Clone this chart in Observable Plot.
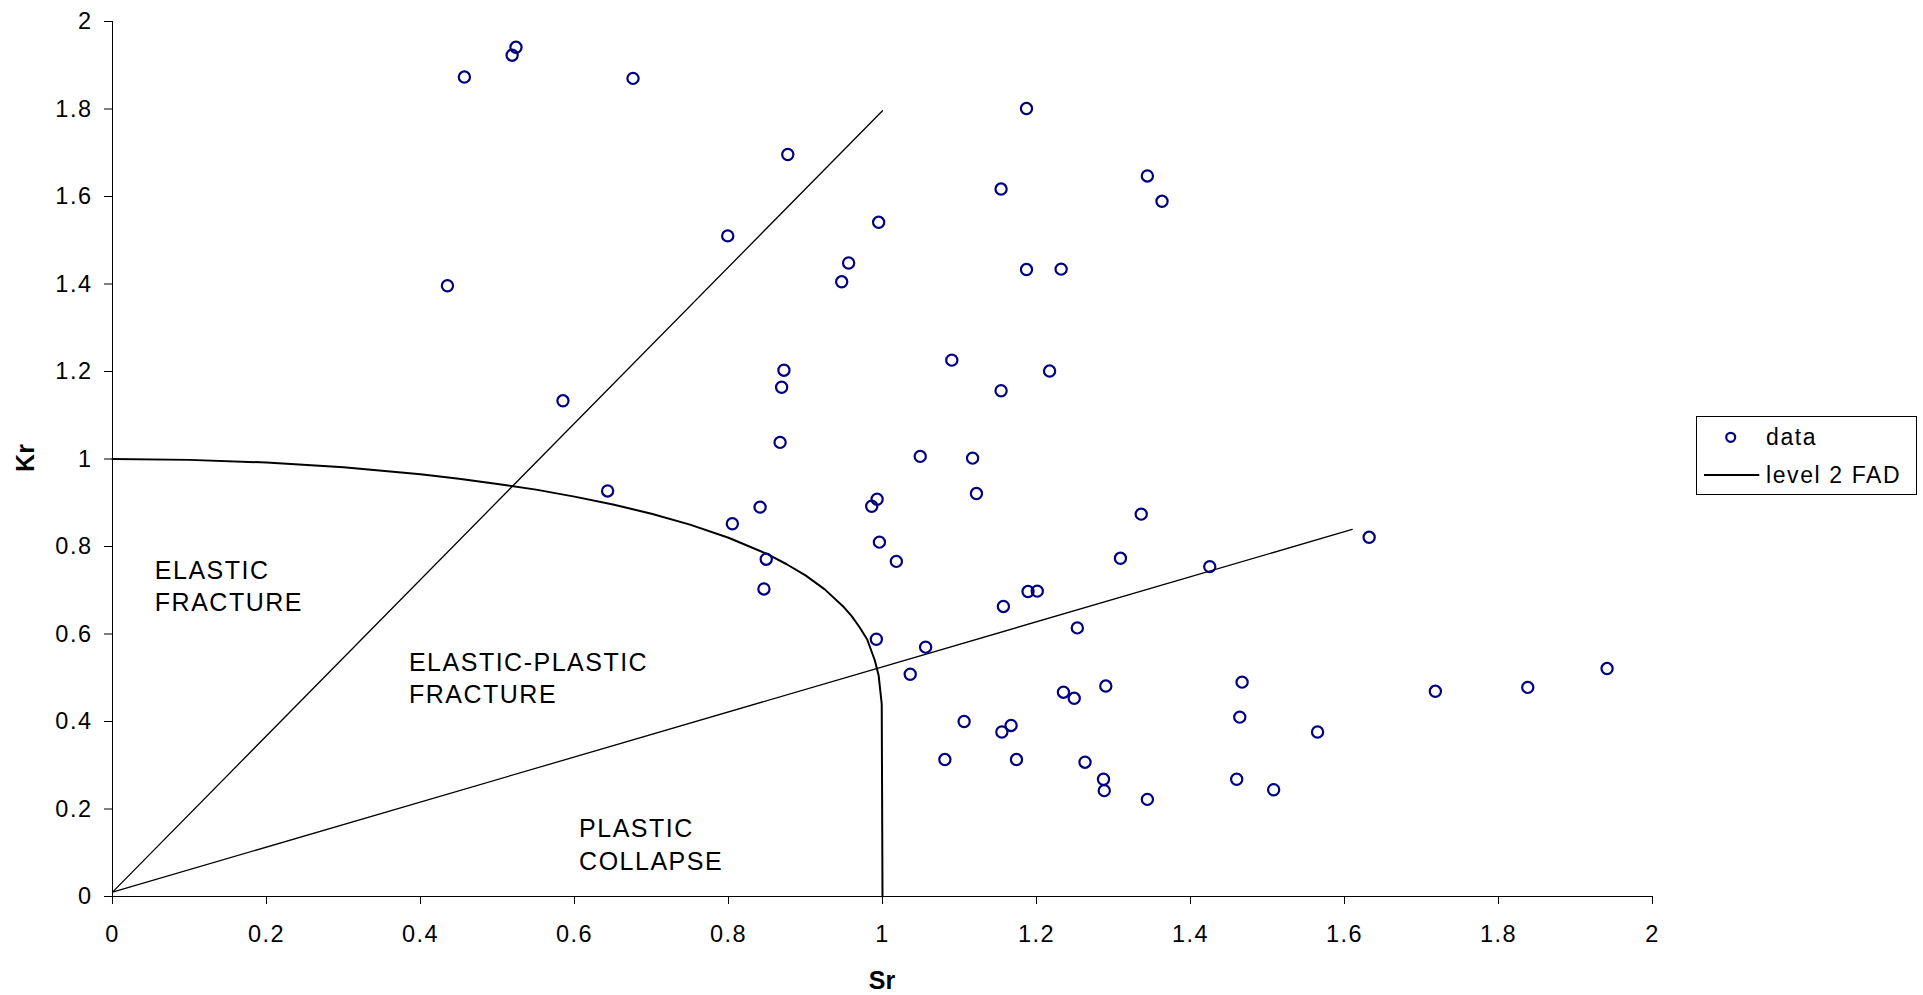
<!DOCTYPE html>
<html>
<head>
<meta charset="utf-8">
<script src="https://cdn.jsdelivr.net/npm/d3@7"></script>
<script src="https://cdn.jsdelivr.net/npm/@observablehq/plot@0.6"></script>
<style>
html, body { margin: 0; padding: 0; background: #fff; }
#wrap { position: relative; width: 1923px; height: 995px; overflow: hidden; font-family: "Liberation Sans", Arial, sans-serif; }
#wrap svg.chart text { letter-spacing: 1.5px; }
.axtitle { position: absolute; font-weight: bold; font-size: 25px; color: #000; line-height: 25px; white-space: nowrap; }
#legend { position: absolute; left: 1696px; top: 416px; width: 221px; height: 79px; }
#legend text { font-family: "Liberation Sans", Arial, sans-serif; font-size: 23px; letter-spacing: 1.6px; fill: #000; }
</style>
</head>
<body>
<div id="wrap"></div>
<script>
// ---- data ----
const dataSr = [0.457, 0.519, 0.524, 0.676, 0.435, 0.585, 0.643, 0.799, 0.877, 1.187,
                1.154, 1.344, 1.363, 0.995, 0.956, 0.947, 1.187, 1.232, 1.090, 0.872,
                0.869, 1.154, 1.217, 0.867, 1.049, 1.117, 1.122, 0.993, 0.986, 0.841,
                0.805, 0.996, 1.018, 0.849, 0.846, 1.336, 1.309, 1.425, 1.632, 1.189,
                1.201, 1.157, 1.253, 0.992, 1.056, 1.036, 1.290, 1.235, 1.249, 1.467,
                1.464, 1.106, 1.167, 1.155, 1.081, 1.174, 1.263, 1.287, 1.288, 1.344,
                1.460, 1.508, 1.565, 1.718, 1.838, 1.941];
const dataKr = [1.873, 1.923, 1.941, 1.870, 1.396, 1.133, 0.927, 1.510, 1.696, 1.801,
                1.617, 1.647, 1.589, 1.541, 1.448, 1.405, 1.433, 1.434, 1.226, 1.203,
                1.164, 1.156, 1.201, 1.038, 1.006, 1.002, 0.921, 0.908, 0.892, 0.890,
                0.852, 0.810, 0.766, 0.771, 0.703, 0.874, 0.773, 0.754, 0.821, 0.697,
                0.698, 0.663, 0.614, 0.588, 0.570, 0.508, 0.481, 0.467, 0.453, 0.490,
                0.410, 0.400, 0.391, 0.376, 0.313, 0.313, 0.307, 0.268, 0.242, 0.222,
                0.268, 0.244, 0.376, 0.469, 0.478, 0.521];

// level 2 FAD curve
const fadSr = [0, 0.1, 0.2, 0.3, 0.4, 0.45, 0.5, 0.55, 0.6, 0.65, 0.7, 0.75, 0.8, 0.85, 0.875, 0.9, 0.925, 0.95, 0.96, 0.97, 0.98, 0.99, 0.995, 0.999, 1.0];
const fadKr = [1.0, 0.998, 0.992, 0.981, 0.965, 0.955, 0.943, 0.930, 0.914, 0.896, 0.875, 0.850, 0.820, 0.783, 0.760, 0.734, 0.702, 0.661, 0.641, 0.616, 0.588, 0.540, 0.505, 0.440, 0.0];

// region boundary lines
const upperSr = [0, 1.0];
const upperKr = [0.01, 1.796];
const lowerSr = [0, 1.61];
const lowerKr = [0.01, 0.839];

// region labels
const regionText = ["ELASTIC", "FRACTURE", "ELASTIC-PLASTIC", "FRACTURE", "PLASTIC", "COLLAPSE"];
const regionSr   = [0.055, 0.055, 0.385, 0.385, 0.606, 0.606];
const regionKr   = [0.745, 0.670, 0.534, 0.460, 0.154, 0.079];

// axes
const tickValues = [0, 0.2, 0.4, 0.6, 0.8, 1, 1.2, 1.4, 1.6, 1.8, 2];
const xTitle = "Sr";
const yTitle = "Kr";
const legendLabels = ["data", "level 2 FAD"];

// ---- tables built from the arrays ----
const points = dataSr.map((s, i) => ({sr: s, kr: dataKr[i]}));
const fad = fadSr.map((s, i) => ({sr: s, kr: fadKr[i]}));
const upper = upperSr.map((s, i) => ({sr: s, kr: upperKr[i]}));
const lower = lowerSr.map((s, i) => ({sr: s, kr: lowerKr[i]}));
const regions = regionText.map((t, i) => ({t, sr: regionSr[i], kr: regionKr[i]}));
const fmt = d => String(Math.round(d * 10) / 10);

const chart = Plot.plot({
  width: 1923,
  height: 995,
  marginLeft: 112,
  marginRight: 271,
  marginTop: 21,
  marginBottom: 99,
  className: "chart",
  style: {fontFamily: "'Liberation Sans', Arial, sans-serif", fontSize: "23.5px", background: "#fff", color: "#000", overflow: "visible"},
  x: {domain: [0, 2]},
  y: {domain: [0, 2]},
  marks: [
    Plot.ruleX([0], {stroke: "#000", strokeWidth: 1}),
    Plot.ruleY([0], {stroke: "#000", strokeWidth: 1}),
    Plot.axisX({ticks: tickValues, tickSize: 8, tickPadding: 21, tickFormat: fmt, label: null, stroke: "#000"}),
    Plot.axisY({ticks: tickValues, tickSize: 8, tickPadding: 12, tickFormat: fmt, label: null, stroke: "#000"}),
    Plot.line(upper, {x: "sr", y: "kr", stroke: "#000", strokeWidth: 1.3}),
    Plot.line(lower, {x: "sr", y: "kr", stroke: "#000", strokeWidth: 1.3}),
    Plot.line(fad, {x: "sr", y: "kr", stroke: "#000", strokeWidth: 2}),
    Plot.dot(points, {x: "sr", y: "kr", r: 5.6, stroke: "#000080", strokeWidth: 2.2, fill: "none"}),
    Plot.text(regions, {x: "sr", y: "kr", text: "t", textAnchor: "start", lineAnchor: "middle", fontSize: 25, fill: "#000"})
  ]
});

const wrap = document.getElementById("wrap");
wrap.appendChild(chart);

// axis titles
const sx = document.createElement("div");
sx.className = "axtitle";
sx.textContent = xTitle;
sx.style.left = "882px";
sx.style.top = "980px";
sx.style.transform = "translate(-50%, -50%)";
wrap.appendChild(sx);

const sy = document.createElement("div");
sy.className = "axtitle";
sy.textContent = yTitle;
sy.style.left = "25px";
sy.style.top = "458px";
sy.style.transform = "translate(-50%, -50%) rotate(-90deg)";
wrap.appendChild(sy);

// legend
const lg = document.createElement("div");
lg.id = "legend";
lg.innerHTML = `<svg width="221" height="79" xmlns="http://www.w3.org/2000/svg">
  <rect x="0.5" y="0.5" width="220" height="78" fill="#fff" stroke="#000" stroke-width="1"/>
  <circle cx="34.7" cy="21.3" r="4.5" fill="none" stroke="#000080" stroke-width="2.2"/>
  <text x="70" y="21.3" dominant-baseline="central">${legendLabels[0]}</text>
  <line x1="8" x2="63.3" y1="59" y2="59" stroke="#000" stroke-width="2"/>
  <text x="70" y="59" dominant-baseline="central">${legendLabels[1]}</text>
</svg>`;
wrap.appendChild(lg);
</script>
</body>
</html>
